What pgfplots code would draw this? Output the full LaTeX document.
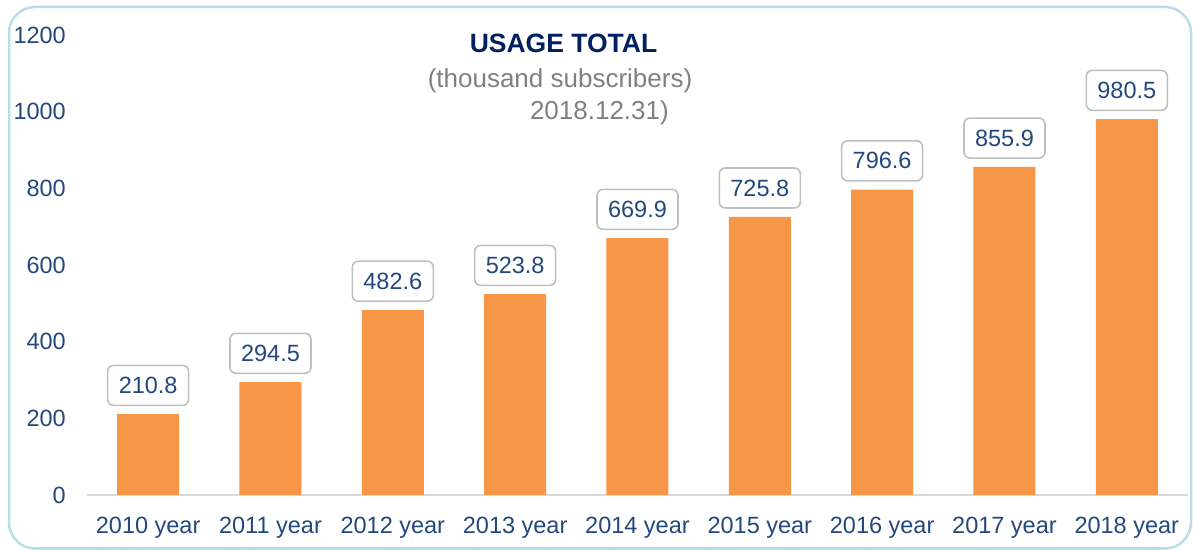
\documentclass[border=0pt]{standalone}
\usepackage{pgfplots}
\pgfplotsset{compat=1.18}
\usepackage{fontspec}
\setmainfont{Liberation Sans}
\definecolor{barorange}{RGB}{247,150,70}
\definecolor{ticktext}{RGB}{36,72,125}
\definecolor{titlenavy}{RGB}{0,32,96}
\definecolor{subgray}{RGB}{128,128,128}
\definecolor{framecol}{RGB}{183,222,232}
\definecolor{boxgray}{RGB}{191,191,191}
\definecolor{axisgray}{RGB}{217,217,217}
\begin{document}
\begin{tikzpicture}
\useasboundingbox (0,0) rectangle (1193bp,550bp);
\draw[framecol, line width=2.5bp, rounded corners=26bp] (9bp,543bp) rectangle (1191bp,1.5bp);
\begin{axis}[
  at={(87bp,55bp)}, anchor=south west,
  width=1101bp, height=460bp, scale only axis,
  xmin=-0.5, xmax=8.5, ymin=0, ymax=1200,
  axis lines*=left,
  y axis line style={draw=none},
  x axis line style={draw=axisgray, line width=2bp, -},
  major tick length=0pt,
  xtick={0,...,8},
  xticklabels={2010 year,2011 year,2012 year,2013 year,2014 year,2015 year,2016 year,2017 year,2018 year},
  ytick={0,200,...,1200},
  /pgf/number format/assume math mode=true,
  /pgf/number format/1000 sep={},
  tick label style={font=\fontsize{23.5bp}{28bp}\selectfont, text=ticktext},
  yticklabel style={anchor=east, inner sep=0pt, xshift=-21bp},
  xticklabel style={anchor=north, inner sep=0pt, yshift=-22bp},
  ybar, bar width=62bp,
  nodes near coords={\pgfmathprintnumber[fixed,fixed zerofill,precision=1]{\pgfplotspointmeta}},
  every node near coord/.append style={anchor=south, yshift=8bp, draw=boxgray, line width=1.6bp, rounded corners=6bp, fill=white, text=ticktext, minimum width=81bp, minimum height=40bp, inner sep=0pt, font=\fontsize{23.5bp}{28bp}\selectfont},
  clip=false,
]
\addplot[fill=barorange, draw=none] coordinates {(0,210.8) (1,294.5) (2,482.6) (3,523.8) (4,669.9) (5,725.8) (6,796.6) (7,855.9) (8,980.5)};
\end{axis}
\node[anchor=base, inner sep=0pt, text=titlenavy, font=\fontsize{26.5bp}{31bp}\selectfont\bfseries] at (563.5bp,497bp) {USAGE TOTAL};
\node[anchor=base, inner sep=0pt, text=subgray, font=\fontsize{26bp}{31bp}\selectfont] at (560bp,462bp) {(thousand subscribers)};
\node[anchor=base east, inner sep=0pt, text=subgray, font=\fontsize{26bp}{31bp}\selectfont] at (669bp,430bp) {2018.12.31)};
\end{tikzpicture}
\end{document}
